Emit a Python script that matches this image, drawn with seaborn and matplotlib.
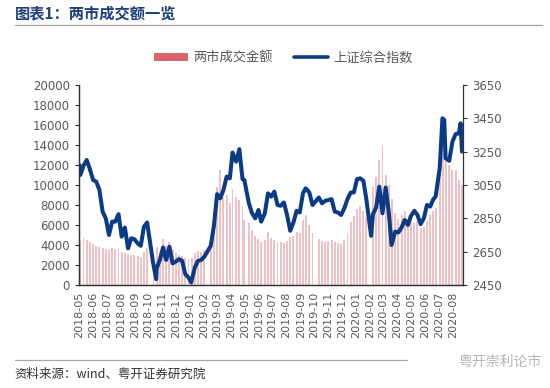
import matplotlib
matplotlib.use("Agg")
import matplotlib.pyplot as plt
from matplotlib.patches import Patch
from matplotlib.lines import Line2D
import seaborn as sns
import pandas as pd
import numpy as np

sns.set_theme(style="white")
plt.rcParams['font.family'] = ['Noto Sans CJK SC', 'DejaVu Sans']
plt.rcParams['axes.unicode_minus'] = False

# ---- data: Shanghai Composite index (points) ----
idx_dates = ["2018-05-02","2018-05-04","2018-05-11","2018-05-18","2018-05-25","2018-06-01","2018-06-08",
             "2018-06-15","2018-06-22","2018-06-29","2018-07-06","2018-07-13","2018-07-20","2018-07-27",
             "2018-08-03","2018-08-10","2018-08-17","2018-08-24","2018-08-31","2018-09-07","2018-09-14",
             "2018-09-21","2018-09-28","2018-10-11","2018-10-18","2018-10-19","2018-10-26","2018-11-02",
             "2018-11-09","2018-11-16","2018-11-23","2018-11-30","2018-12-07","2018-12-14","2018-12-21",
             "2018-12-28","2019-01-03","2019-01-11","2019-01-18","2019-01-25","2019-02-01","2019-02-15",
             "2019-02-22","2019-03-01","2019-03-08","2019-03-15","2019-03-22","2019-03-29","2019-04-04",
             "2019-04-12","2019-04-19","2019-04-26","2019-04-30","2019-05-10","2019-05-17","2019-05-24",
             "2019-05-31","2019-06-06","2019-06-14","2019-06-21","2019-06-28","2019-07-05","2019-07-12",
             "2019-07-19","2019-07-26","2019-08-02","2019-08-09","2019-08-16","2019-08-23","2019-08-30",
             "2019-09-06","2019-09-12","2019-09-20","2019-09-27","2019-10-11","2019-10-18","2019-10-25",
             "2019-11-01","2019-11-08","2019-11-15","2019-11-22","2019-11-29","2019-12-06","2019-12-13",
             "2019-12-20","2019-12-27","2020-01-03","2020-01-10","2020-01-17","2020-01-23","2020-02-03",
             "2020-02-07","2020-02-14","2020-02-21","2020-02-28","2020-03-06","2020-03-13","2020-03-19",
             "2020-03-27","2020-04-03","2020-04-10","2020-04-17","2020-04-24","2020-04-30","2020-05-08",
             "2020-05-15","2020-05-22","2020-05-29","2020-06-05","2020-06-12","2020-06-19","2020-06-24",
             "2020-07-03","2020-07-09","2020-07-13","2020-07-16","2020-07-24","2020-07-31","2020-08-07",
             "2020-08-14","2020-08-18","2020-08-21"]
idx_values = [3170,3110,3165,3200,3145,3080,3070,
              3020,2890,2850,2750,2830,2830,2875,
              2740,2795,2670,2730,2725,2700,2685,
              2800,2825,2585,2485,2550,2600,2675,
              2600,2680,2580,2590,2605,2595,2515,
              2495,2465,2555,2595,2600,2620,2685,
              2805,2995,2970,3020,3100,3090,3245,
              3190,3265,3085,3080,2940,2880,2850,
              2900,2830,2880,3000,2980,3010,2930,
              2925,2945,2870,2775,2825,2895,2885,
              3000,3030,3005,2930,2975,2940,2955,
              2960,2965,2890,2885,2870,2910,2965,
              3005,3005,3085,3090,3075,2975,2745,
              2875,2915,3040,2880,3035,2885,2690,
              2770,2765,2795,2840,2810,2860,2895,
              2870,2815,2850,2930,2920,2965,2980,
              3150,3450,3440,3210,3195,3310,3355,
              3360,3420,3250]

# ---- data: two-market turnover (100 million CNY) ----
vol_dates = ["2018-05-04","2018-05-11","2018-05-18","2018-05-25","2018-06-01","2018-06-08","2018-06-15",
             "2018-06-22","2018-06-29","2018-07-06","2018-07-13","2018-07-20","2018-07-27","2018-08-03",
             "2018-08-10","2018-08-17","2018-08-24","2018-08-31","2018-09-07","2018-09-14","2018-09-21",
             "2018-09-28","2018-10-12","2018-10-19","2018-10-26","2018-11-02","2018-11-09","2018-11-16",
             "2018-11-23","2018-11-30","2018-12-07","2018-12-14","2018-12-21","2018-12-28","2019-01-04",
             "2019-01-11","2019-01-18","2019-01-25","2019-02-01","2019-02-15","2019-02-22","2019-03-01",
             "2019-03-08","2019-03-15","2019-03-22","2019-03-29","2019-04-04","2019-04-12","2019-04-19",
             "2019-04-26","2019-04-30","2019-05-10","2019-05-17","2019-05-24","2019-05-31","2019-06-06",
             "2019-06-14","2019-06-21","2019-06-28","2019-07-05","2019-07-12","2019-07-19","2019-07-26",
             "2019-08-02","2019-08-09","2019-08-16","2019-08-23","2019-08-30","2019-09-06","2019-09-12",
             "2019-09-20","2019-09-27","2019-10-11","2019-10-18","2019-10-25","2019-11-01","2019-11-08",
             "2019-11-15","2019-11-22","2019-11-29","2019-12-06","2019-12-13","2019-12-20","2019-12-27",
             "2020-01-03","2020-01-10","2020-01-17","2020-01-23","2020-02-07","2020-02-14","2020-02-21",
             "2020-02-28","2020-03-06","2020-03-13","2020-03-20","2020-03-27","2020-04-03","2020-04-10",
             "2020-04-17","2020-04-24","2020-04-30","2020-05-08","2020-05-15","2020-05-22","2020-05-29",
             "2020-06-05","2020-06-12","2020-06-19","2020-06-24","2020-07-03","2020-07-10","2020-07-17",
             "2020-07-24","2020-07-31","2020-08-07","2020-08-14","2020-08-21"]
vol_values = [4400,4700,4500,4300,4100,3900,3800,
              3700,3600,3500,3700,3600,3700,3300,
              3200,3100,3000,3000,2900,2800,3300,
              3700,2800,3800,3200,4600,3900,4300,
              3600,3200,3000,2900,2700,2600,2700,
              3200,3400,3300,3500,4500,6800,9800,
              11500,8800,9000,8200,9600,8800,8500,
              7800,6500,6200,5500,4900,4600,4300,
              4500,5300,4700,4500,4300,4300,4200,
              4400,4800,4900,5300,5200,6500,7000,
              6000,5200,4600,4400,4300,4400,4500,
              4300,4200,4100,4500,5200,6300,6900,
              7600,7900,7400,6800,9800,10800,12500,
              14000,11000,10000,8600,7200,6600,7000,
              7400,6600,6500,6200,6400,5700,5800,
              6400,7000,7400,7700,12500,16500,13500,
              12000,11500,11500,10500,10000]

idx_df = pd.DataFrame({"date": pd.to_datetime(idx_dates), "index": idx_values})
vol_df = pd.DataFrame({"date": pd.to_datetime(vol_dates), "volume": vol_values})

month_ticks = pd.date_range("2018-05-01", "2020-08-01", freq="MS")
tick_labels = [d.strftime("%Y-%m") for d in month_ticks]

bar_color = "#efc0c4"
line_color = "#0b3a86"
text_color = "#595959"

fig = plt.figure(figsize=(5.5, 3.88), dpi=100)
ax = fig.add_axes([0.1436, 0.2655, 0.698, 0.5155])
ax.bar(vol_df["date"], vol_df["volume"], width=4.2, color=bar_color, linewidth=0)
ax.set_ylim(0, 20000)
ax.set_yticks(np.arange(0, 20001, 2000))
ax.set_xlim(pd.Timestamp("2018-05-01"), pd.Timestamp("2020-08-23"))

ax2 = ax.twinx()
sns.lineplot(data=idx_df, x="date", y="index", ax=ax2, color=line_color, linewidth=2.9)
ax2.set_ylim(2450, 3650)
ax2.set_yticks(np.arange(2450, 3651, 200))
ax2.set_xlim(pd.Timestamp("2018-05-01"), pd.Timestamp("2020-08-23"))

ax.set_xticks(month_ticks)
ax.set_xticklabels(tick_labels, rotation=90, fontsize=8, color=text_color, family="DejaVu Sans")
for a in (ax, ax2):
    a.set_xlabel("")
    a.set_ylabel("")
    a.grid(False)
    a.tick_params(axis="y", labelsize=8.5, colors=text_color, length=3, width=0.8, direction="out")
    for lbl in a.get_yticklabels():
        lbl.set_family("DejaVu Sans")
ax.tick_params(axis="x", length=3, width=0.8, direction="out", colors="#333333", labelcolor=text_color, pad=2)
ax.tick_params(axis="y", colors="#333333", labelcolor=text_color)
ax2.tick_params(axis="y", colors="#333333", labelcolor=text_color)
for a in (ax, ax2):
    for s in ("left", "right", "bottom"):
        a.spines[s].set_visible(True)
        a.spines[s].set_color("#333333")
        a.spines[s].set_linewidth(0.9)
    a.spines["top"].set_visible(False)
ax.spines["right"].set_visible(False)
ax.set_zorder(1)
ax2.set_zorder(2)
ax2.patch.set_visible(False)

handles = [Patch(facecolor="#d9646b", edgecolor="none"),
           Line2D([0], [0], color=line_color, linewidth=2.6)]
fig.legend(handles, ["两市成交金额", "上证综合指数"], loc="center", bbox_to_anchor=(0.515, 0.85),
           ncol=2, frameon=False, fontsize=9.5, labelcolor=text_color, handlelength=2.6,
           handleheight=0.55, columnspacing=1.6, handletextpad=0.4)

fig.text(0.027, 0.965, "图表1：两市成交额一览", fontsize=11, fontweight="bold", color="#1f3f7a",
         va="center", ha="left")
fig.add_artist(Line2D([0.027, 0.985], [0.935, 0.935], color="#a6a6a6", linewidth=0.9))
fig.add_artist(Line2D([0.027, 0.74], [0.073, 0.073], color="#a6a6a6", linewidth=0.9))
fig.text(0.027, 0.035, "资料来源：wind、粤开证券研究院", fontsize=9, style="italic", color="#333333",
         va="center", ha="left")
fig.text(0.985, 0.068, "粤开崇利论市", fontsize=10, color="#b5b5b5", va="center", ha="right")

fig.savefig("out.png", dpi=100, facecolor="white")
